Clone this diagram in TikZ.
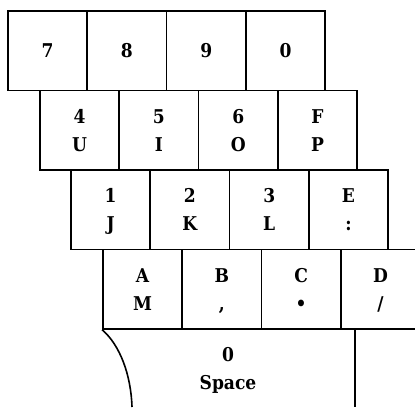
\documentclass[tikz,border=0pt]{standalone}
\usepackage{fontspec}
\setmainfont{DejaVu Serif Condensed}
\usepackage{tikz}
\usetikzlibrary{positioning}

\begin{document}
\begin{tikzpicture}[
    x=1pt, y=-1pt,
    key/.style={rectangle, draw=black, line width=1.6pt, minimum width=79.3pt,
                minimum height=79.5pt, inner sep=0pt, align=center, text depth=0pt,
                font=\bfseries\fontsize{19}{28}\selectfont},
    keytext/.style={align=center, inner sep=0pt, text depth=0pt,
                    font=\bfseries\fontsize{19}{28}\selectfont},
    edge/.style={draw=black, line width=1.6pt}
]
    \useasboundingbox (0,0) rectangle (415,407);
    \clip (0,0) rectangle (415,407);

    % top row
    \node[key] (k7) at (47.6, 50.75) {7};
    \node[key] (k8) at (126.9, 50.75) {8};
    \node[key] (k9) at (206.2, 50.75) {9};
    \node[key] (k0) at (285.5, 50.75) {0};

    % second row
    \node[key] (k4) at (79.6, 130.25) {4\\U};
    \node[key] (k5) at (158.9, 130.25) {5\\I};
    \node[key] (k6) at (238.2, 130.25) {6\\O};
    \node[key] (kF) at (317.5, 130.25) {F\\P};

    % third row
    \node[key] (k1) at (110.6, 209.75) {1\\J};
    \node[key] (k2) at (189.9, 209.75) {2\\K};
    \node[key] (k3) at (269.2, 209.75) {3\\L};
    \node[key] (kE) at (348.5, 209.75) {E\\:};

    % fourth row
    \node[key] (kA) at (142.6, 289.25) {A\\M};
    \node[key] (kB) at (221.9, 289.25) {B\\,};
    \node[key] (kC) at (301.2, 289.25) {C\\•};
    \node[key] (kD) at (380.5, 289.25) {D\\/};

    % space bar
    \coordinate (spright) at (355, 329);
    \coordinate (spbottom) at (355, 407);
    \coordinate (curveend) at (132, 407);
    \draw[edge] (kA.south west) .. controls (120, 345) and (131, 375) .. (curveend);
    \draw[edge] (spright) -- (spbottom);
    \node[keytext] (space) at (228, 368) {0\\Space};
\end{tikzpicture}
\end{document}
